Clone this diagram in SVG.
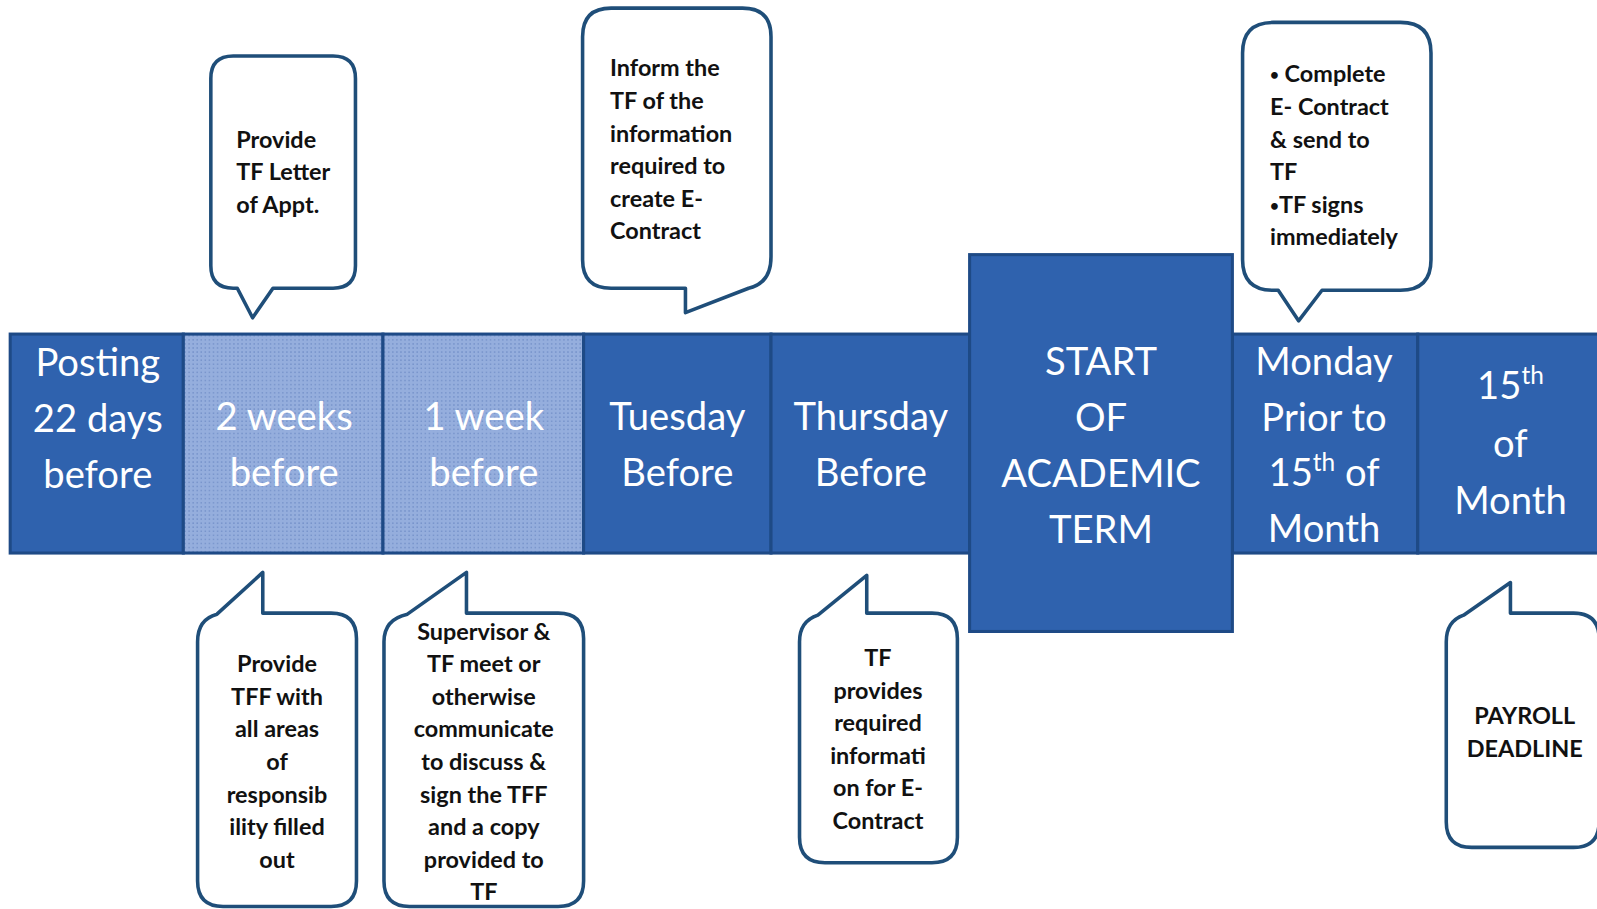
<svg xmlns="http://www.w3.org/2000/svg" width="1597" height="909" viewBox="0 0 1597 909">
<defs>
<pattern id="dots" width="4" height="4" patternUnits="userSpaceOnUse">
<rect width="4" height="4" fill="#95AEDD"/>
<rect x="1" y="1" width="1.3" height="1.3" fill="#6F8CC6"/>
</pattern>
</defs>
<style>
.cell{fill:#2F62AE;stroke:#1E4A86;stroke-width:3}
.light{fill:url(#dots);stroke:#1E4A86;stroke-width:3}
.big{font-family:Lato,"Open Sans",sans-serif;font-size:37.5px;fill:#FFFFFF;text-anchor:middle}
.call{fill:#FFFFFF;stroke:#1F4E79;stroke-width:3.5;stroke-linejoin:round}
.t{font-family:Lato,"Open Sans",sans-serif;font-weight:bold;font-size:23px;fill:#111111}
.c{text-anchor:middle}
.b{font-size:15px}
</style>
<rect width="1597" height="909" fill="#FFFFFF"/>
<g transform="scale(1.0185)">
<g id="connectors"></g>

<g id="posting">
<rect class="cell" x="10" y="328" width="170" height="215"/>
<text class="big" x="96" y="369">Posting</text>
<text class="big" x="96" y="424">22 days</text>
<text class="big" x="96" y="479">before</text>
</g>
<g id="two-weeks">
<rect class="light" x="180" y="328" width="196" height="215"/>
<text class="big" x="279" y="422">2 weeks</text>
<text class="big" x="279" y="477">before</text>
</g>
<g id="one-week">
<rect class="light" x="376" y="328" width="197" height="215"/>
<text class="big" x="475" y="422">1 week</text>
<text class="big" x="475" y="477">before</text>
</g>
<g id="tuesday">
<rect class="cell" x="573" y="328" width="184" height="215"/>
<text class="big" x="665" y="422">Tuesday</text>
<text class="big" x="665" y="477">Before</text>
</g>
<g id="thursday">
<rect class="cell" x="757" y="328" width="195" height="215"/>
<text class="big" x="855" y="422">Thursday</text>
<text class="big" x="855" y="477">Before</text>
</g>
<g id="monday">
<rect class="cell" x="1210" y="328" width="182" height="215"/>
<text class="big" x="1300" y="368">Monday</text>
<text class="big" x="1300" y="423">Prior to</text>
<text class="big" x="1300" y="477">15<tspan font-size="24" dy="-15">th</tspan><tspan dy="15"> of</tspan></text>
<text class="big" x="1300" y="532">Month</text>
</g>
<g id="fifteenth">
<rect class="cell" x="1392" y="328" width="215" height="215"/>
<text class="big" x="1483" y="392">15<tspan font-size="24" dy="-15">th</tspan></text>
<text class="big" x="1483" y="449">of</text>
<text class="big" x="1483" y="505">Month</text>
</g>
<g id="start">
<rect class="cell" x="952" y="250" width="258" height="370"/>
<text class="big" x="1081" y="368">START</text>
<text class="big" x="1081" y="423">OF</text>
<text class="big" x="1081" y="478">ACADEMIC</text>
<text class="big" x="1081" y="533">TERM</text>
</g>

<g id="callout-letter">
<path class="call" d="M229,55 H327 Q349,55 349,77 V261 Q349,283 327,283 H268 L248,312 L233,283 H229 Q207,283 207,261 V77 Q207,55 229,55 Z"/>
<text class="t" x="232" y="145">Provide</text>
<text class="t" x="232" y="177">TF Letter</text>
<text class="t" x="232" y="209">of Appt.</text>
</g>
<g id="callout-inform">
<path class="call" d="M600,8 H729 Q757,8 757,36 V252 Q757,278 735,283 L673,307 L673,283 H600 Q572,283 572,255 V36 Q572,8 600,8 Z"/>
<text class="t" x="599" y="75">Inform the</text>
<text class="t" x="599" y="107">TF of the</text>
<text class="t" x="599" y="139">information</text>
<text class="t" x="599" y="171">required to</text>
<text class="t" x="599" y="203">create E-</text>
<text class="t" x="599" y="235">Contract</text>
</g>
<g id="callout-complete">
<path class="call" d="M1250,22 H1375 Q1405,22 1405,52 V255 Q1405,285 1375,285 H1298 L1275,315 L1255,285 H1250 Q1220,285 1220,255 V52 Q1220,22 1250,22 Z"/>
<text class="t" x="1247" y="81"><tspan class="b" dy="-2">•</tspan><tspan dy="2"> Complete</tspan></text>
<text class="t" x="1247" y="113">E- Contract</text>
<text class="t" x="1247" y="145">&amp; send to</text>
<text class="t" x="1247" y="177">TF</text>
<text class="t" x="1247" y="209"><tspan class="b" dy="-2">•</tspan><tspan dy="2">TF signs</tspan></text>
<text class="t" x="1247" y="241">immediately</text>
</g>
<g id="callout-tff">
<path class="call" d="M194,630 Q194,608 213,603 L258,562 L258,602 H325 Q350,602 350,627 V865 Q350,890 325,890 H219 Q194,890 194,865 Z"/>
<text class="t c" x="272" y="660">Provide</text>
<text class="t c" x="272" y="692">TFF with</text>
<text class="t c" x="272" y="724">all areas</text>
<text class="t c" x="272" y="756">of</text>
<text class="t c" x="272" y="788">responsib</text>
<text class="t c" x="272" y="820">ility filled</text>
<text class="t c" x="272" y="852">out</text>
</g>
<g id="callout-supervisor">
<path class="call" d="M377,630 Q377,608 400,603 L458,562 L458,602 H548 Q573,602 573,627 V865 Q573,890 548,890 H402 Q377,890 377,865 Z"/>
<text class="t c" x="475" y="628">Supervisor &amp;</text>
<text class="t c" x="475" y="660">TF meet or</text>
<text class="t c" x="475" y="692">otherwise</text>
<text class="t c" x="475" y="724">communicate</text>
<text class="t c" x="475" y="756">to discuss &amp;</text>
<text class="t c" x="475" y="788">sign the TFF</text>
<text class="t c" x="475" y="820">and a copy</text>
<text class="t c" x="475" y="852">provided to</text>
<text class="t c" x="475" y="884">TF</text>
</g>
<g id="callout-provides">
<path class="call" d="M785,630 Q785,610 803,604 L851,565 L851,602 H915 Q940,602 940,627 V822 Q940,847 915,847 H810 Q785,847 785,822 Z"/>
<text class="t c" x="862" y="654">TF</text>
<text class="t c" x="862" y="686">provides</text>
<text class="t c" x="862" y="718">required</text>
<text class="t c" x="862" y="750">informati</text>
<text class="t c" x="862" y="782">on for E-</text>
<text class="t c" x="862" y="814">Contract</text>
</g>
<g id="callout-payroll">
<path class="call" d="M1420,630 Q1420,610 1437,604 L1483,572 L1483,602 H1545 Q1570,602 1570,627 V807 Q1570,832 1545,832 H1445 Q1420,832 1420,807 Z"/>
<text class="t c" x="1497" y="711">PAYROLL</text>
<text class="t c" x="1497" y="743">DEADLINE</text>
</g>
</g>
</svg>
